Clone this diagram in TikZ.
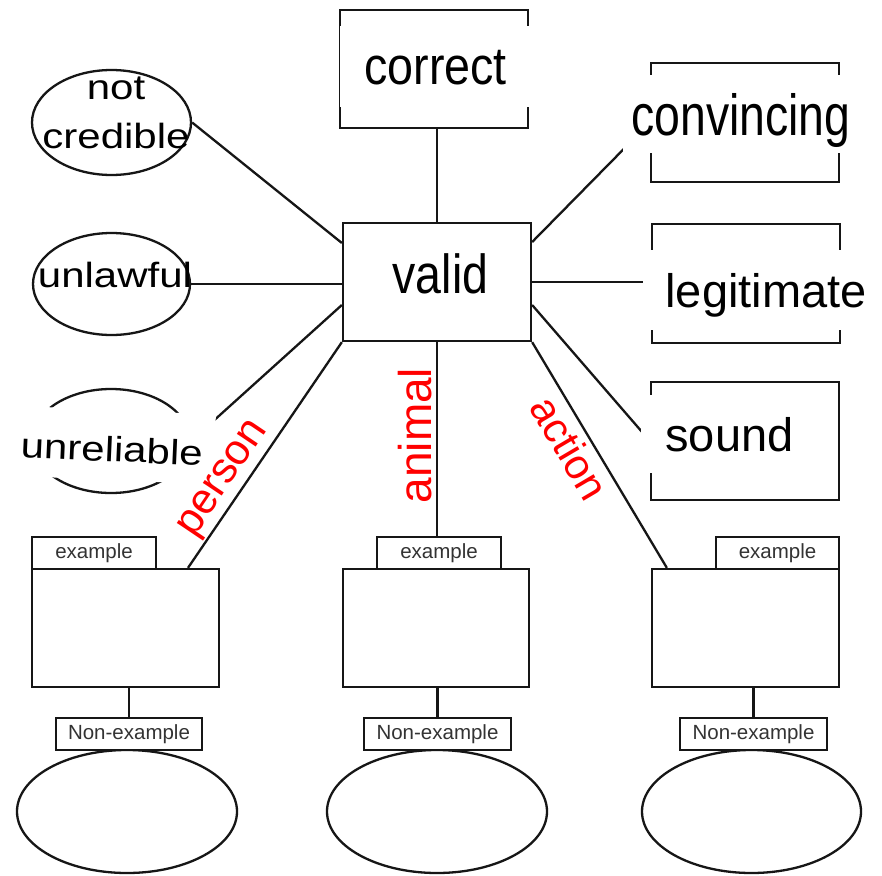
\documentclass[tikz,border=0pt]{standalone}
\usepackage{fontspec}
\setmainfont{Liberation Sans}
\newfontfamily\widefont[FakeStretch=1.2]{Liberation Sans}
\newfontfamily\tallfont[FakeStretch=0.88]{Liberation Sans}
\newfontfamily\validfont[FakeStretch=0.845]{Liberation Sans}
\newfontfamily\tallerfont[FakeStretch=0.80]{Liberation Sans}
\usetikzlibrary{shapes.geometric}
\definecolor{ink}{HTML}{161616}
\definecolor{tabink}{HTML}{333333}
\begin{document}
\begin{tikzpicture}[x=1pt,y=-1pt,
  shapebox/.style={draw=ink, line width=2.3pt, rectangle, inner sep=0pt, fill=white},
  oval/.style={draw=ink, line width=2.3pt, ellipse, inner sep=0pt},
  conn/.style={draw=ink, line width=2.3pt},
  thinconn/.style={draw=ink, line width=1.3pt},
  patch/.style={fill=white, inner sep=0pt, text=black, text height=34pt, text depth=0pt},
  redword/.style={text=red, inner sep=0pt},
  tabword/.style={text=tabink, font=\fontsize{20.5}{24}\selectfont},
]
\fill[white] (0,0) rectangle (882,875);
\useasboundingbox (0,0) rectangle (882,875);

% top and side shapes
\node[shapebox, minimum width=188, minimum height=118] (correct) at (434,69) {};
\node[shapebox, minimum width=188, minimum height=118] (valid) at (437,282) {};
\node[shapebox, minimum width=188, minimum height=119] (convincing) at (745,122.5) {};
\node[shapebox, minimum width=188, minimum height=119] (legit) at (746,283.5) {};
\node[shapebox, minimum width=188, minimum height=118] (sound) at (745,441) {};

\node[oval, minimum width=159, minimum height=105] (notcred) at (111.5,122.5) {};
\node[oval, minimum width=157, minimum height=102] (unlawful) at (111.5,284) {};
\node[oval, minimum width=158, minimum height=104] (unrel) at (111,441) {};

% bottom ellipses
\node[oval, minimum width=220, minimum height=123] (lov) at (127,811.5) {};
\node[oval, minimum width=220, minimum height=123] (mov) at (437,811.5) {};
\node[oval, minimum width=219, minimum height=123] (rov) at (751.5,811.5) {};

% bottom boxes
\node[shapebox, minimum width=187, minimum height=118] (lbig) at (125.5,628) {};
\node[shapebox, minimum width=186, minimum height=118] (mbig) at (436,628) {};
\node[shapebox, minimum width=187, minimum height=118] (rbig) at (745.5,628) {};

\node[shapebox, tabword, minimum width=124, minimum height=32] (ltab) at (94,553) {example};
\node[shapebox, tabword, minimum width=124, minimum height=32] (mtab) at (439,553) {example};
\node[shapebox, tabword, minimum width=123, minimum height=32] (rtab) at (777.5,553) {example};

\node[shapebox, tabword, minimum width=146, minimum height=32] (lnon) at (129,734) {Non-example};
\node[shapebox, tabword, minimum width=147, minimum height=32] (mnon) at (437.5,734) {Non-example};
\node[shapebox, tabword, minimum width=147, minimum height=32] (rnon) at (753.5,734) {Non-example};

% connectors
\draw[thinconn] (valid.north) -- (valid.north |- correct.south);
\draw[conn] (notcred.east) -- ([yshift=39pt]valid.west);
\draw[conn] (unlawful.east) -- (unlawful.east -| valid.west);
\draw[conn] (unrel.east) -- ([yshift=-23pt]valid.west);
\draw[conn] (valid.south west) -- ([xshift=62.5pt]lbig.north);
\draw[thinconn] (valid.south) -- (valid.south |- mtab.north);
\draw[conn] (valid.south east) -- ([xshift=16pt]rbig.north west);
\draw[conn] ([yshift=40pt]valid.east) -- (convincing.west);
\draw[conn] (valid.east) -- (valid.east -| legit.west);
\draw[conn] ([yshift=-23pt]valid.east) -- (sound.west);
\draw[conn] (lnon.north) -- (lnon.north |- lbig.south);
\draw[conn] (mnon.north) -- (mnon.north |- mbig.south);
\draw[conn] (rnon.north) -- (rnon.north |- rbig.south);

% text labels (white patches as in the reference)
\node[patch, minimum width=191, minimum height=81, text height=35pt, font=\tallfont\fontsize{53}{60}\selectfont] (tcorrect) at (435.5,66.5) {correct};
\node[anchor=base, inner sep=0pt, font=\validfont\fontsize{55}{60}\selectfont] (tvalid) at (440.5,293) {valid};
\node[patch, minimum width=236, minimum height=78, text height=42pt, font=\tallerfont\fontsize{58}{64}\selectfont] (tconv) at (741,114) {convincing};
\node[patch, minimum width=246, minimum height=80, font=\fontsize{47}{56}\selectfont] (tlegit) at (766,290) {legitimate};
\node[patch, minimum width=177, minimum height=78, font=\fontsize{47}{56}\selectfont] (tsound) at (729.5,434) {sound};

\node[align=center, inner sep=0pt, font=\widefont\fontsize{35}{49}\selectfont] (tnotcred) at (116,113) {not\\credible};
\node[anchor=base, inner sep=0pt, font=\widefont\fontsize{35}{42}\selectfont] (tunlawful) at (115,287) {unlawful};
\node[patch, rotate=-2.5, minimum width=205, minimum height=70, text height=33pt, font=\widefont\fontsize{35}{42}\selectfont] (tunrel) at (112,445) {unreliable};

\node[redword, rotate=56, font=\fontsize{43}{50}\selectfont] (tperson) at (225,480) {person};
\node[redword, rotate=90, font=\fontsize{46}{50}\selectfont] (tanimal) at (415.5,435.5) {animal};
\node[redword, rotate=-59.5, font=\fontsize{42}{50}\selectfont] (taction) at (570,448) {action};
\end{tikzpicture}
\end{document}
